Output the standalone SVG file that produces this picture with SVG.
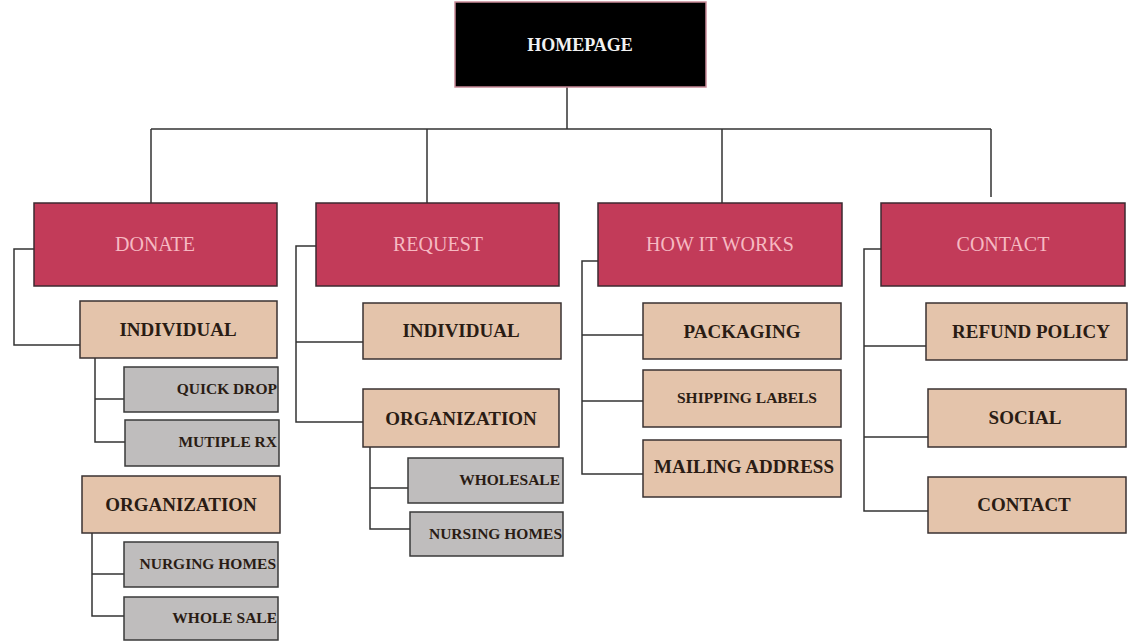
<svg xmlns="http://www.w3.org/2000/svg" width="1128" height="642" viewBox="0 0 1128 642">
<style>
.bg{fill:#ffffff}
.home{fill:#000000;stroke:#c98a98;stroke-width:1.5}
.hometxt{font-family:"Liberation Serif",serif;font-weight:bold;font-size:18px;fill:#f2f2f2}
.red{fill:#c23b59;stroke:#3c2a30;stroke-width:1.5}
.redtxt{font-family:"Liberation Serif",serif;font-size:20px;fill:#f6b9c2}
.tan{fill:#e4c4ab;stroke:#3a3232;stroke-width:1.5}
.tantxt{font-family:"Liberation Serif",serif;font-weight:bold;font-size:19px;fill:#2a1c14}
.gray{fill:#bfbdbd;stroke:#3a3a3a;stroke-width:1.5}
.graytxt{font-family:"Liberation Serif",serif;font-weight:bold;font-size:15.5px;fill:#2a1c14}
.conn{fill:none;stroke:#333333;stroke-width:1.5}
</style>
<rect class="bg" x="0" y="0" width="1128" height="642"/>
<g id="connectors">
<path class="conn" d="M567 87 V129 M151 129 H991 M151 129 V203 M427 129 V203 M722 129 V203 M991 129 V197"/>
<path class="conn" d="M34 249 H14 V345 H80 M95 358 V442 H125 M95 399 H124 M92 533 V616 H124 M92 574 H124"/>
<path class="conn" d="M316 246 H296 V422 H363 M296 342 H363 M370 447 V529 H410 M370 488 H408"/>
<path class="conn" d="M598 261 H582 V474 H643 M582 335 H643 M582 401 H643"/>
<path class="conn" d="M881 249 H864 V511 H928 M864 346 H926 M864 437 H928"/>
</g>
<g id="homepage"><rect class="home" x="455" y="2" width="251" height="85"/><text class="hometxt" x="580" y="51" text-anchor="middle">HOMEPAGE</text></g>
<g id="donate"><rect class="red" x="34" y="203" width="243" height="83"/><text class="redtxt" x="155" y="251" text-anchor="middle">DONATE</text></g>
<g id="request"><rect class="red" x="316" y="203" width="243" height="83"/><text class="redtxt" x="438" y="251" text-anchor="middle">REQUEST</text></g>
<g id="howitworks"><rect class="red" x="598" y="203" width="244" height="83"/><text class="redtxt" x="720" y="251" text-anchor="middle">HOW IT WORKS</text></g>
<g id="contact"><rect class="red" x="881" y="203" width="244" height="83"/><text class="redtxt" x="1003" y="251" text-anchor="middle">CONTACT</text></g>

<g id="donate-individual"><rect class="tan" x="80" y="301" width="197" height="57"/><text class="tantxt" x="178" y="336" text-anchor="middle">INDIVIDUAL</text></g>
<g id="quick-drop"><rect class="gray" x="124" y="367" width="154" height="45"/><text class="graytxt" x="277" y="394" text-anchor="end">QUICK DROP</text></g>
<g id="mutiple-rx"><rect class="gray" x="125" y="420" width="154" height="46"/><text class="graytxt" x="277" y="447" text-anchor="end">MUTIPLE RX</text></g>
<g id="donate-organization"><rect class="tan" x="82" y="476" width="198" height="57"/><text class="tantxt" x="181" y="511" text-anchor="middle">ORGANIZATION</text></g>
<g id="nurging-homes"><rect class="gray" x="124" y="542" width="154" height="45"/><text class="graytxt" x="276" y="569" text-anchor="end">NURGING HOMES</text></g>
<g id="whole-sale"><rect class="gray" x="124" y="597" width="154" height="43"/><text class="graytxt" x="277" y="623" text-anchor="end">WHOLE SALE</text></g>

<g id="request-individual"><rect class="tan" x="363" y="303" width="198" height="56"/><text class="tantxt" x="461" y="337" text-anchor="middle">INDIVIDUAL</text></g>
<g id="request-organization"><rect class="tan" x="363" y="389" width="196" height="58"/><text class="tantxt" x="461" y="425" text-anchor="middle">ORGANIZATION</text></g>
<g id="wholesale"><rect class="gray" x="408" y="458" width="155" height="45"/><text class="graytxt" x="560" y="485" text-anchor="end">WHOLESALE</text></g>
<g id="nursing-homes"><rect class="gray" x="410" y="512" width="153" height="44"/><text class="graytxt" x="562" y="539" text-anchor="end">NURSING HOMES</text></g>

<g id="packaging"><rect class="tan" x="643" y="303" width="198" height="56"/><text class="tantxt" x="742" y="338" text-anchor="middle">PACKAGING</text></g>
<g id="shipping-labels"><rect class="tan" x="643" y="370" width="198" height="57"/><text class="graytxt" x="747" y="403" text-anchor="middle">SHIPPING LABELS</text></g>
<g id="mailing-address"><rect class="tan" x="643" y="440" width="198" height="57"/><text class="tantxt" x="744" y="473" text-anchor="middle">MAILING ADDRESS</text></g>

<g id="refund-policy"><rect class="tan" x="926" y="303" width="201" height="57"/><text class="tantxt" x="1031" y="338" text-anchor="middle">REFUND POLICY</text></g>
<g id="social"><rect class="tan" x="928" y="389" width="198" height="58"/><text class="tantxt" x="1025" y="424" text-anchor="middle">SOCIAL</text></g>
<g id="contact-contact"><rect class="tan" x="928" y="477" width="198" height="56"/><text class="tantxt" x="1024" y="511" text-anchor="middle">CONTACT</text></g>
</svg>
